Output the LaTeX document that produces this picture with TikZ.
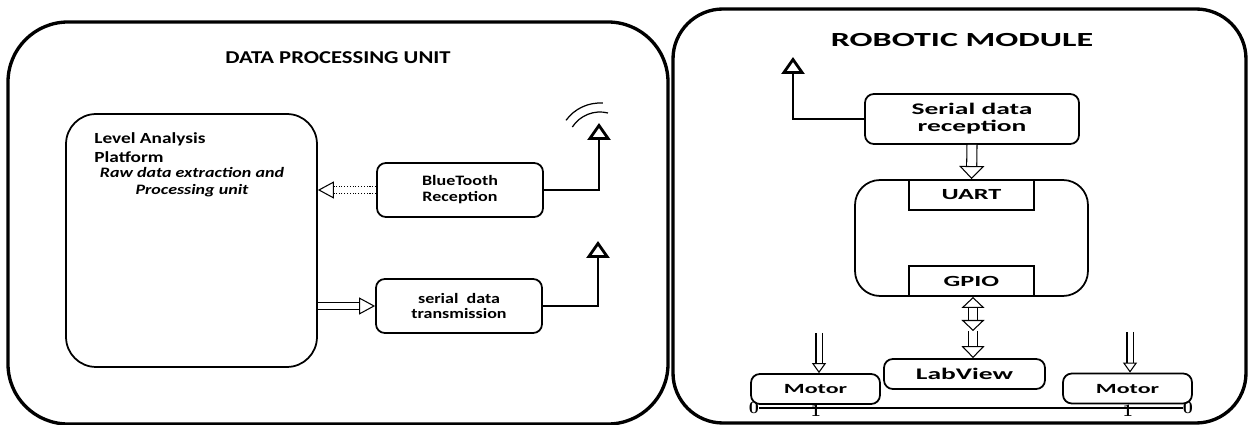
\documentclass[tikz,border=0pt]{standalone}
\usepackage{fontspec}
\newfontfamily\lsf[FakeStretch=1.25]{Carlito}
\newfontfamily\rsf[FakeStretch=1.7]{Carlito}
\usetikzlibrary{arrows.meta}
\usetikzlibrary{positioning}

\tikzset{
  panel/.style={line width=1.9pt, rounded corners=1.2cm},
  blk/.style={draw, line width=1pt, rounded corners=5pt, align=center, inner sep=0pt},
  lbox/.style={blk, minimum width=3.32cm, minimum height=1.08cm, font=\lsf\bfseries\fontsize{8.2}{9.1}\selectfont},
  rbox/.style={blk, minimum height=0.6cm, font=\rsf\bfseries\fontsize{9.2}{9.7}\selectfont},
  port/.style={draw, line width=1.1pt, minimum width=2.5cm, minimum height=0.6cm, inner sep=0pt, font=\rsf\bfseries\fontsize{8.8}{9}\selectfont},
  ant/.style={line width=1.6pt, -{Triangle[open, length=0.34cm, width=0.46cm]}},
  hollow/.style={double, double distance=#1, line width=0.6pt},
  wheel/.style={inner sep=0pt, font=\bfseries\fontsize{10}{12}\selectfont}
}

\begin{document}
\begin{tikzpicture}[x=0.02cm, y=-0.02cm]
\useasboundingbox (0,0) rectangle (1249,425);

% data processing unit
\draw[panel] (8,22) rectangle (668,424);
\node[font=\lsf\bfseries\fontsize{10.3}{12}\selectfont] (dputitle) at (338,58) {DATA PROCESSING UNIT};
\node[blk, rounded corners=0.6cm, minimum width=5.02cm, minimum height=5.06cm] (lvl) at (191.5,240.5) {};
\node[anchor=north west, inner sep=0pt, align=left, font=\lsf\bfseries\fontsize{8.8}{10.8}\selectfont] (lvltxt) at (94,132) {Level Analysis\\Platform};
\node[inner sep=0pt, align=center, font=\lsf\bfseries\itshape\fontsize{8.2}{9.7}\selectfont] (lvlsub) at (192,182.5) {Raw data extraction and\\Processing unit};
\node[lbox] (bt) at (460,190) {BlueTooth\\Reception};
\node[lbox] (tx) at (459,306) {serial\ \ data\\transmission};
\coordinate (ant1) at (599,123);
\coordinate (ant2) at (598,241);

\draw[hollow=0.13cm, densely dotted, -{Triangle[open, length=0.32cm, width=0.34cm]}] (bt.west) -- (bt.west -| lvl.east);
\draw[hollow=0.13cm, -{Triangle[open, length=0.32cm, width=0.34cm]}] (lvl.east |- tx.west) -- (tx.west);
\draw[ant] (bt.east) -| (ant1);
\draw[ant] (tx.east) -| (ant2);
\draw[line width=0.7pt] (600,145) ++(76:0.66cm) arc[start angle=76, end angle=147, radius=0.66cm];
\draw[line width=0.7pt] (600,145) ++(86:0.84cm) arc[start angle=86, end angle=144, radius=0.84cm];

% robotic module
\draw[panel, rounded corners=1cm] (673,9) rectangle (1246,423);
\node[font=\rsf\bfseries\fontsize{11.4}{13}\selectfont] (rmtitle) at (962,40) {ROBOTIC MODULE};
\node[rbox, minimum width=4.28cm, minimum height=1cm] (rx) at (972,119) {Serial data\\reception};
\node[blk, rounded corners=0.5cm, minimum width=4.66cm, minimum height=2.32cm] (mcu) at (971.5,238) {};
\node[port] (uart) at (971.5,195) {UART};
\node[port] (gpio) at (971.5,281) {GPIO};
\node[rbox, minimum width=3.22cm] (lab) at (964.5,374) {LabView};
\node[rbox, minimum width=2.58cm, font=\rsf\bfseries\fontsize{8}{9}\selectfont] (mot1) at (815.5,389) {Motor};
\node[rbox, minimum width=2.58cm, font=\rsf\bfseries\fontsize{8}{9}\selectfont] (mot2) at (1127.5,388.5) {Motor};
\coordinate (ant3) at (793,57);
\coordinate (mid) at (973,331);
\coordinate (in1) at (819,333);
\coordinate (in2) at (1130,332);

\draw[ant] (rx.west) -| (ant3);
\draw[hollow=0.18cm, -{Triangle[open, length=0.26cm, width=0.5cm]}] (rx.south) -- (uart.north);
\draw[hollow=0.16cm, {Triangle[open, length=0.22cm, width=0.46cm]}-{Triangle[open, length=0.22cm, width=0.46cm]}] (gpio.south -| mid) -- (mid);
\draw[hollow=0.16cm, -{Triangle[open, length=0.24cm, width=0.46cm]}] (mid) -- (mid |- lab.north);
\draw[hollow=0.1cm, -{Triangle[open, length=0.2cm, width=0.28cm]}] (in1) -- (in1 |- mot1.north);
\draw[hollow=0.1cm, -{Triangle[open, length=0.2cm, width=0.28cm]}] (in2) -- (in2 |- mot2.north);

\node[wheel] (w1) at (754,408) {0};
\node[wheel] (w2) at (1188,408) {0};
\node[wheel, anchor=north] (s1) at (816,405) {1};
\node[wheel, anchor=north] (s2) at (1128,405) {1};
\draw[line width=0.8pt] (w1.east) -- (w2.west);

\end{tikzpicture}
\end{document}
